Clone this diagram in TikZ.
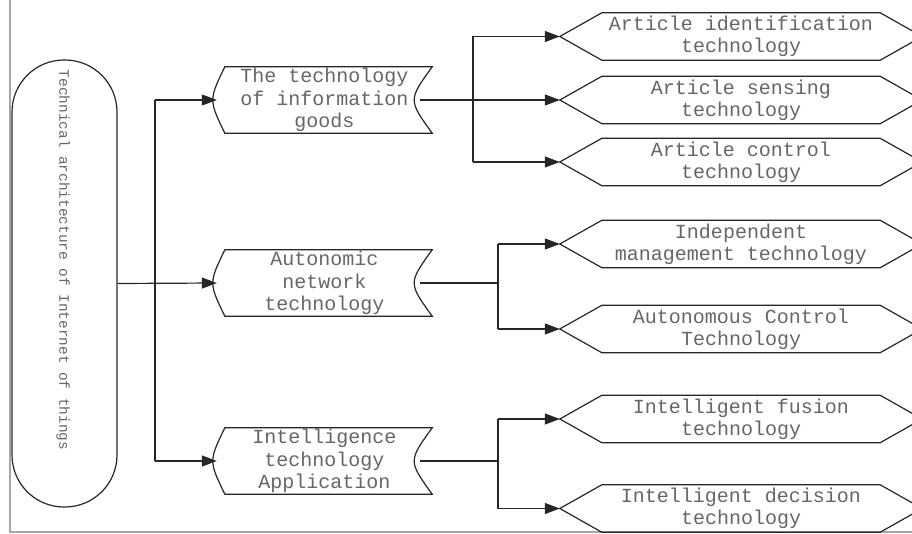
\documentclass[tikz,border=0pt]{standalone}
\usepackage{fontspec}
\newfontfamily\labelfont{Liberation Mono}
\usetikzlibrary{arrows.meta,calc}
\tikzset{
  ln/.style={line width=1.2pt, draw=black!85},
  arr/.style={ln, -{Triangle[length=15pt,width=11pt]}},
  txt/.style={text=black!60, align=center, inner sep=0pt},
  midbox/.style={txt, minimum width=215pt, minimum height=66pt, font=\labelfont\fontsize{20}{22.5}\selectfont},
  hexbox/.style={txt, minimum width=362pt, minimum height=47pt, font=\labelfont\fontsize{20}{22}\selectfont},
  outline/.style={line width=1.2pt, draw=black!85},
}
\newcommand{\midoutline}[1]{%
  \draw[outline] ([xshift=8pt]#1.north west) -- (#1.north east)
    .. controls ([xshift=-24pt]#1.east) .. (#1.south east)
    -- ([xshift=8pt]#1.south west)
    .. controls ([xshift=-8pt]#1.west) .. cycle;}
\newcommand{\hexoutline}[1]{%
  \draw[outline] (#1.west) -- ([xshift=42pt]#1.north west) -- ([xshift=-42pt]#1.north east)
    -- (#1.east) -- ([xshift=-42pt]#1.south east) -- ([xshift=42pt]#1.south west) -- cycle;}
\begin{document}
\begin{tikzpicture}[x=1pt,y=-1pt]
\useasboundingbox (0,0) rectangle (912,534);
\clip (0,0) rectangle (912,534);
% screenshot frame
\draw[line width=1.2pt, black!35] (10,0) -- (10,532) -- (912,532);
% root
\node[ln, draw, rounded corners=52pt, minimum width=105pt, minimum height=447pt, inner sep=0pt] (root) at (64.5,283.5) {};
\node[txt, rotate=-90, font=\labelfont\fontsize{14.4}{16}\selectfont] (roottext) at (63,260) {Technical architecture of Internet of things};
% middle level
\node[midbox] (m1) at (324.5,100) {The technology\\of information\\goods};
\node[midbox] (m2) at (324.5,283) {Autonomic\\network\\technology};
\node[midbox] (m3) at (324.5,461) {Intelligence\\technology\\Application};
\midoutline{m1}\midoutline{m2}\midoutline{m3}
% leaves
\node[hexbox] (h1) at (741,36.5) {Article identification\\technology};
\node[hexbox] (h2) at (741,100) {Article sensing\\technology};
\node[hexbox] (h3) at (741,162) {Article control\\technology};
\node[hexbox] (h4) at (741,244) {Independent\\management technology};
\node[hexbox] (h5) at (741,329) {Autonomous Control\\Technology};
\node[hexbox] (h6) at (741,419) {Intelligent fusion\\technology};
\node[hexbox] (h7) at (741,508.5) {Intelligent decision\\technology};
\foreach \h in {h1,h2,h3,h4,h5,h6,h7}{\hexoutline{\h}}
% connectors root -> middle
\coordinate (t0) at (155,283);
\draw[arr] (root.east) -- (m2.west);
\draw[ln] (t0 |- m1.west) -- (t0 |- m3.west);
\draw[arr] (t0 |- m1.west) -- (m1.west);
\draw[arr] (t0 |- m3.west) -- (m3.west);
% group 1
\coordinate (t1) at (473,100);
\draw[arr] ([xshift=-12pt]m1.east) -- (h2.west);
\draw[ln] (t1 |- h1.west) -- (t1 |- h3.west);
\draw[arr] (t1 |- h1.west) -- (h1.west);
\draw[arr] (t1 |- h3.west) -- (h3.west);
% group 2
\coordinate (t2) at (498,283);
\draw[ln] ([xshift=-12pt]m2.east) -- (t2);
\draw[ln] (t2 |- h4.west) -- (t2 |- h5.west);
\draw[arr] (t2 |- h4.west) -- (h4.west);
\draw[arr] (t2 |- h5.west) -- (h5.west);
% group 3
\coordinate (t3) at (498,461);
\draw[ln] ([xshift=-12pt]m3.east) -- (t3);
\draw[ln] (t3 |- h6.west) -- (t3 |- h7.west);
\draw[arr] (t3 |- h6.west) -- (h6.west);
\draw[arr] (t3 |- h7.west) -- (h7.west);
\end{tikzpicture}
\end{document}
